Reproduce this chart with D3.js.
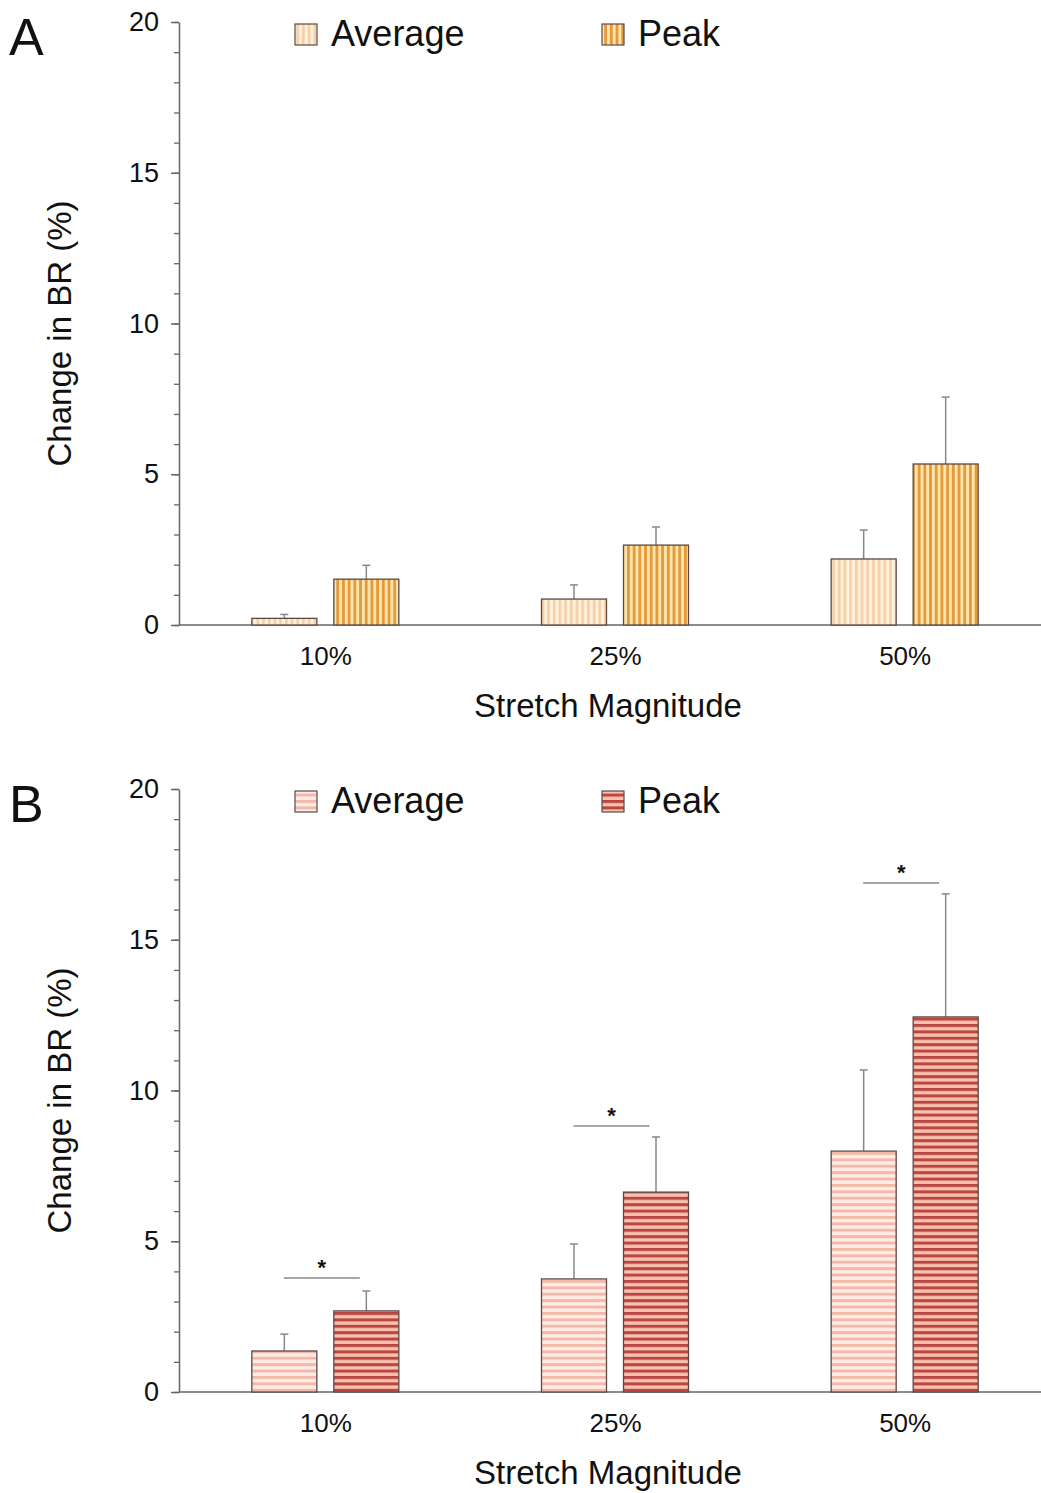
<!DOCTYPE html>
<html>
<head>
<meta charset="utf-8">
<script src="https://cdn.jsdelivr.net/npm/d3@7"></script>
<style>
  body { margin: 0; background: #fff; }
  svg { display: block; font-family: "Liberation Sans", Arial, sans-serif; }
</style>
</head>
<body>
<svg id="chart" width="1041" height="1493"></svg>
<script>
// Stretch magnitudes on the x axis
const categories = ["10%", "25%", "50%"];
const seriesNames = ["Average", "Peak"];

// Panel A: change in BR (%) — mean and upper error
const aAverage = [0.22, 0.86, 2.19];
const aAverageErr = [0.13, 0.47, 0.96];
const aPeak = [1.52, 2.65, 5.34];
const aPeakErr = [0.46, 0.60, 2.22];

// Panel B: change in BR (%) — mean and upper error
const bAverage = [1.36, 3.75, 7.99];
const bAverageErr = [0.56, 1.16, 2.69];
const bPeak = [2.69, 6.63, 12.44];
const bPeakErr = [0.66, 1.83, 4.08];

// Significance bracket heights for panel B
const bSignif = [3.78, 8.82, 16.88];

const yTicks = [0, 5, 10, 15, 20];

const svg = d3.select("#chart");
const defs = svg.append("defs");

function stripePattern(id, vertical, bg, fg, period, fgWidth) {
  const p = defs.append("pattern")
    .attr("id", id)
    .attr("patternUnits", "userSpaceOnUse")
    .attr("width", period)
    .attr("height", period);
  p.append("rect").attr("width", period).attr("height", period).attr("fill", bg);
  if (vertical) {
    p.append("rect").attr("x", 0).attr("y", 0).attr("width", fgWidth).attr("height", period).attr("fill", fg);
  } else {
    p.append("rect").attr("x", 0).attr("y", 0).attr("width", period).attr("height", fgWidth).attr("fill", fg);
  }
}

stripePattern("aAvg", true, "#fdf1dc", "#f6cfa6", 5.7, 2.6);
stripePattern("aPeak", true, "#fce5ad", "#e49a3a", 5.7, 2.8);
stripePattern("bAvg", false, "#fdebe5", "#f2b9aa", 6.4, 2.9);
stripePattern("bPeak", false, "#f7c0b0", "#b9473f", 6.4, 3.0);

function drawPanel(opts) {
  const top = opts.top;          // y of the value 20
  const bottom = opts.bottom;    // y of the value 0
  const axisX = 179;

  const g = svg.append("g");

  const y = d3.scaleLinear().domain([0, 20]).range([bottom, top]);
  const x = d3.scaleBand().domain(categories).range([181, 1050]).padding(0);

  // minor ticks every 1 unit
  const minor = g.append("g").attr("transform", `translate(${axisX},0)`)
    .call(d3.axisLeft(y).tickValues(d3.range(0, 21, 1)).tickSize(5).tickFormat(""));
  minor.select(".domain").remove();
  minor.selectAll("line").attr("stroke", "#666").attr("stroke-width", 1.3);

  // major ticks and labels
  const yAxis = g.append("g").attr("transform", `translate(${axisX},0)`)
    .call(d3.axisLeft(y).tickValues(yTicks).tickSize(8).tickSizeOuter(0).tickPadding(12));
  yAxis.select(".domain").attr("stroke", "#666").attr("stroke-width", 1.5);
  yAxis.selectAll("line").attr("stroke", "#666").attr("stroke-width", 1.5);
  yAxis.selectAll("text").attr("font-size", 27).attr("fill", "#111")
    .attr("font-family", "Liberation Sans, Arial, sans-serif");

  // x axis
  const xAxis = g.append("g").attr("transform", `translate(0,${bottom})`)
    .call(d3.axisBottom(x).tickSize(0).tickPadding(22));
  xAxis.select(".domain").attr("d", `M${axisX},0H1041`).attr("stroke", "#666").attr("stroke-width", 1.5);
  xAxis.selectAll("text").attr("font-size", 26).attr("fill", "#111")
    .attr("font-family", "Liberation Sans, Arial, sans-serif");

  const barW = 65;
  const offsets = [-74, 8];
  const vals = [opts.avg, opts.peak];
  const errs = [opts.avgErr, opts.peakErr];
  const fills = [opts.fillAvg, opts.fillPeak];

  vals.forEach((series, si) => {
    const cx = c => x(c) + x.bandwidth() / 2 + offsets[si];
    // error bars (upper only)
    g.selectAll(null).data(categories).enter().append("line")
      .attr("x1", c => cx(c) + barW / 2).attr("x2", c => cx(c) + barW / 2)
      .attr("y1", (c, i) => y(series[i])).attr("y2", (c, i) => y(series[i] + errs[si][i]))
      .attr("stroke", "#888").attr("stroke-width", 1.5);
    g.selectAll(null).data(categories).enter().append("line")
      .attr("x1", c => cx(c) + barW / 2 - 4).attr("x2", c => cx(c) + barW / 2 + 4)
      .attr("y1", (c, i) => y(series[i] + errs[si][i])).attr("y2", (c, i) => y(series[i] + errs[si][i]))
      .attr("stroke", "#888").attr("stroke-width", 1.5);
    // bars
    g.selectAll(null).data(categories).enter().append("rect")
      .attr("x", c => cx(c))
      .attr("y", (c, i) => y(series[i]))
      .attr("width", barW)
      .attr("height", (c, i) => y(0) - y(series[i]))
      .attr("fill", `url(#${fills[si]})`)
      .attr("stroke", "#5a4a44").attr("stroke-width", 1.3);
  });

  // significance markers
  if (opts.signif) {
    categories.forEach((c, i) => {
      const mid = x(c) + x.bandwidth() / 2;
      const yy = y(opts.signif[i]);
      g.append("line").attr("x1", mid - 42).attr("x2", mid + 34)
        .attr("y1", yy).attr("y2", yy).attr("stroke", "#888").attr("stroke-width", 1.5);
      g.append("text").attr("x", mid - 4).attr("y", yy - 3)
        .attr("text-anchor", "middle").attr("font-size", 22).attr("font-weight", "bold")
        .attr("fill", "#111").text("*");
    });
  }

  // axis titles
  g.append("text")
    .attr("transform", `translate(71,${(top + bottom) / 2 + 10}) rotate(-90)`)
    .attr("text-anchor", "middle").attr("font-size", 33).attr("fill", "#111")
    .text("Change in BR (%)");
  g.append("text")
    .attr("x", 608).attr("y", bottom + 92)
    .attr("text-anchor", "middle").attr("font-size", 33).attr("fill", "#111")
    .text("Stretch Magnitude");

  // panel letter
  g.append("text").attr("x", 9).attr("y", top + 33)
    .attr("font-size", 52).attr("fill", "#111").text(opts.letter);

  // legend
  const legendX = [295, 602];
  seriesNames.forEach((name, i) => {
    g.append("rect").attr("x", legendX[i]).attr("y", top + 2).attr("width", 22).attr("height", 21)
      .attr("fill", `url(#${fills[i]})`).attr("stroke", "#5a4a44").attr("stroke-width", 1.2);
    g.append("text").attr("x", legendX[i] + 36).attr("y", top + 24)
      .attr("font-size", 36).attr("fill", "#111").text(name);
  });
}

drawPanel({
  top: 22, bottom: 625, letter: "A",
  avg: aAverage, avgErr: aAverageErr, peak: aPeak, peakErr: aPeakErr,
  fillAvg: "aAvg", fillPeak: "aPeak"
});
drawPanel({
  top: 789, bottom: 1392, letter: "B",
  avg: bAverage, avgErr: bAverageErr, peak: bPeak, peakErr: bPeakErr,
  fillAvg: "bAvg", fillPeak: "bPeak", signif: bSignif
});
</script>
</body>
</html>
